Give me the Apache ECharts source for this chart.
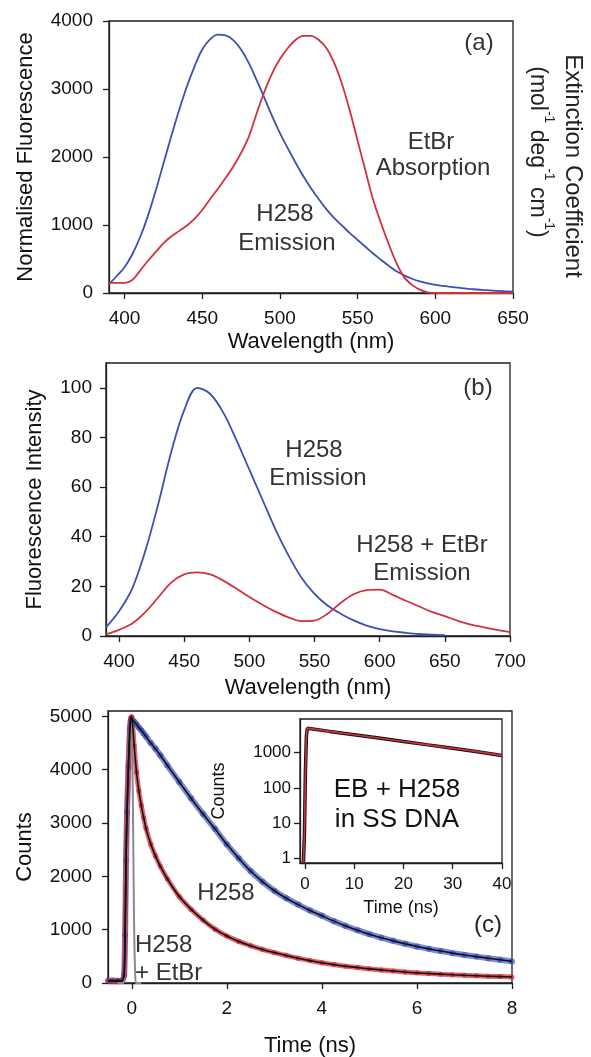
<!DOCTYPE html>
<html>
<head>
<meta charset="utf-8">
<title>H258 / EtBr spectra and decays</title>
<script src="https://cdn.jsdelivr.net/npm/echarts@6.0.0/dist/echarts.min.js"></script>
<style>
  html, body { margin: 0; padding: 0; background: #fff; }
  #chart { width: 591px; height: 1057px; }
</style>
</head>
<body>
<div id="chart"></div>
<script>
// ---- panel (a): normalised fluorescence / absorption, 390-650 nm ----
var wlA = [390,395,400,405,410,415,420,425,430,435,440,445,450,455,460,465,470,475,480,485,
           490,495,500,505,510,515,520,525,530,535,540,545,550,555,560,565,570,575,580,585,
           590,595,600,605,610,615,620,625,630,635,640,645,650];
var h258EmA = [130,250,380,570,820,1130,1500,1900,2300,2680,3030,3330,3580,3730,3800,3790,3720,3580,3380,3130,
               2870,2600,2350,2130,1920,1720,1540,1380,1230,1100,990,880,780,680,580,490,400,320,260,210,
               170,140,120,105,90,78,65,55,45,38,30,25,20];
var etbrAbsA = [150,150,150,190,330,470,600,730,830,910,990,1090,1220,1380,1530,1690,1860,2060,2300,2640,
                2960,3230,3440,3600,3720,3780,3780,3720,3600,3380,3070,2680,2240,1800,1370,1030,720,440,230,120,
                50,10,0,0,0,0,0,0,0,0,0,0,0];

// ---- panel (b): fluorescence intensity, 390-700 nm ----
var wlB = [390,400,410,420,430,440,450,460,470,480,490,500,510,520,530,540,550,560,570,580,
           590,600,610,620,630,640,650,660,670,680,690,700];
var h258EmB = [3.5,10,19,34,53,74,91,100,97.5,90,79,67,55,43,32.5,23.5,17,12.3,9,6.3,
               4.2,2.8,1.9,1.3,0.8,0.5,0.3,null,null,null,null,null];
var mixEmB = [0.7,2.5,5,9.5,15.5,21.5,24.8,25.6,24.8,22.3,19.1,15.7,12.6,9.8,7.5,6,6.2,9,13.3,16.8,
              18.5,18.7,16.6,14.2,12,9.7,8,6.1,4.6,3.5,2.5,1.6];

// ---- panel (c): time-resolved decays, -0.5-8 ns ----
var tC = [-0.5,-0.4,-0.3,-0.2,-0.16,-0.14,-0.12,-0.1,-0.07,-0.04,-0.02,0,
          0.05,0.1,0.15,0.2,0.25,0.3,0.4,0.5,0.6,0.75,
          1,1.25,1.5,1.75,2,2.25,2.5,2.75,3,3.25,3.5,3.75,4,4.25,4.5,4.75,
          5,5.25,5.5,5.75,6,6.25,6.5,6.75,7,7.25,7.5,7.75,8];
var h258C = [40,45,35,50,150,900,2300,3200,4050,4750,4920,4950,
             4900,4850,4790,4740,4680,4620,4500,4390,4270,4080,
             3770,3460,3170,2890,2600,2340,2100,1900,1730,1590,1470,1360,1260,1160,1070,990,
             915,850,790,735,685,640,600,560,525,495,465,435,405];
var mixC = [45,35,50,40,150,900,2300,3200,4100,4800,4980,4990,
            4450,3950,3600,3330,3100,2900,2600,2380,2190,1950,
            1620,1380,1180,1010,880,780,700,630,570,515,465,420,380,345,315,290,
            265,245,225,205,190,178,166,155,145,136,127,120,112];
var irfT = [-0.3,-0.17,-0.15,-0.12,-0.09,-0.06,-0.03,-0.01,0.01,0.03,0.05,0.07,0.09,0.2];
var irfC = [0,0,300,1800,3300,4400,4800,4850,4400,2800,1000,200,0,0];

// inset: log counts, -1-40 ns
var tIn = [-0.3,-0.1,0.1,0.3,0.5,5,10,15,20,25,30,35,40];
var mixIn = [0.8,5,300,3000,4900,3970,3200,2580,2050,1650,1330,1060,830];

var BLUE = '#3d4fb3';
var RED = '#d3303b';
var INK = '#1e1e1e';
var FONT = 'Liberation Sans, Arial, sans-serif';

function pairs(xs, ys) {
    return xs.map(function (x, i) { return [x, ys[i]]; });
}
function plain(v) { return String(v); }

function xAx(grid, min, max, ticks, name, labelMargin, nameGap, fs) {
    return {
        gridIndex: grid, type: 'value', min: min, max: max,
        axisLine: { show: true, onZero: false, lineStyle: { color: INK, width: 1.3 } },
        axisTick: { show: true, inside: false, length: 6, customValues: ticks, lineStyle: { color: INK, width: 1.3 } },
        axisLabel: { customValues: ticks, formatter: plain, fontSize: fs || 19, margin: labelMargin, color: '#111', fontFamily: FONT },
        splitLine: { show: false },
        name: name, nameLocation: 'middle', nameGap: nameGap,
        nameTextStyle: { fontSize: fs ? 18 : 22, color: '#111', fontFamily: FONT }
    };
}

function yAx(grid, min, max, ticks, name, labelMargin, nameGap, extra) {
    var ax = {
        gridIndex: grid, type: 'value', min: min, max: max,
        axisLine: { show: true, onZero: false, lineStyle: { color: INK, width: 1.3 } },
        axisTick: { show: true, inside: false, length: 6, customValues: ticks, lineStyle: { color: INK, width: 1.3 } },
        axisLabel: { customValues: ticks, formatter: plain, fontSize: 19, margin: labelMargin, color: '#111', fontFamily: FONT },
        splitLine: { show: false },
        name: name, nameLocation: 'middle', nameGap: nameGap, nameRotate: 90,
        nameTextStyle: { fontSize: 22, color: '#111', fontFamily: FONT }
    };
    if (extra) { for (var k in extra) ax[k] = extra[k]; }
    return ax;
}

function curve(x, y, data, color, width) {
    return {
        type: 'line', xAxisIndex: x, yAxisIndex: y, data: data,
        showSymbol: false, smooth: 0.35, connectNulls: false,
        lineStyle: { color: color, width: width || 1.8 }, z: 3
    };
}

var chart = echarts.init(document.getElementById('chart'), null, { renderer: 'canvas' });

var gridBase = { show: true, borderColor: INK, borderWidth: 1.3, outerBoundsMode: 'none', containLabel: false };
function g(l, t, w, h, bg) {
    var o = { left: l, top: t, width: w, height: h, backgroundColor: bg || 'transparent' };
    for (var k in gridBase) o[k] = gridBase[k];
    return o;
}

var option = {
    animation: false,
    backgroundColor: '#fff',
    grid: [
        g(109, 21, 404, 272),
        g(106, 363, 404, 273),
        g(108, 711, 404, 272),
        g(300, 719, 202, 144, '#fff')
    ],
    xAxis: [
        xAx(0, 390, 650, [400,450,500,550,600,650], 'Wavelength (nm)', 16, 38),
        xAx(1, 390, 700, [400,450,500,550,600,650,700], 'Wavelength (nm)', 16, 41),
        xAx(2, -0.5, 8, [0,2,4,6,8], 'Time (ns)', 16, 52),
        xAx(3, -1, 40, [0,10,20,30,40], 'Time (ns)', 13, 36, 17)
    ],
    yAxis: [
        yAx(0, 0, 4000, [0,1000,2000,3000,4000], 'Normalised Fluorescence', 16, 72),
        yAx(1, 0, 110, [0,20,40,60,80,100], 'Fluorescence Intensity', 14, 60),
        yAx(2, 0, 5100, [0,1000,2000,3000,4000,5000], 'Counts', 16, 72),
        yAx(3, 0.75, 8900, [1,10,100,1000], 'Counts', 9, 72, {
            type: 'log', logBase: 10,
            axisLabel: { customValues: [1,10,100,1000], formatter: plain, fontSize: 17, margin: 9, color: '#111', fontFamily: FONT },
            nameTextStyle: { fontSize: 18, color: '#111', fontFamily: FONT }
        })
    ],
    series: [
        curve(0, 0, pairs(wlA, h258EmA), BLUE),
        curve(0, 0, pairs(wlA, etbrAbsA), RED),
        curve(1, 1, pairs(wlB, h258EmB), BLUE),
        curve(1, 1, pairs(wlB, mixEmB), RED),
        // measured points, drawn as a dense translucent band
        {
            type: 'line', xAxisIndex: 2, yAxisIndex: 2, data: pairs(tC, h258C),
            symbol: 'circle', symbolSize: 6, showSymbol: true, smooth: 0.2,
            itemStyle: { color: 'rgba(60,80,190,0.7)' },
            lineStyle: { color: 'rgba(70,90,200,0.7)', width: 6 }, z: 2
        },
        {
            type: 'line', xAxisIndex: 2, yAxisIndex: 2, data: pairs(tC, mixC),
            symbol: 'circle', symbolSize: 5, showSymbol: true, smooth: 0.2,
            itemStyle: { color: 'rgba(215,40,50,0.75)' },
            lineStyle: { color: 'rgba(215,40,50,0.7)', width: 5 }, z: 2
        },
        {
            type: 'line', xAxisIndex: 2, yAxisIndex: 2, data: pairs(irfT, irfC),
            showSymbol: false, smooth: 0.2,
            lineStyle: { color: '#8a8a8a', width: 2 }, z: 3
        },
        // fits
        {
            type: 'line', xAxisIndex: 2, yAxisIndex: 2, data: pairs(tC, h258C),
            showSymbol: false, smooth: 0.2, lineStyle: { color: '#111', width: 1.6 }, z: 4
        },
        {
            type: 'line', xAxisIndex: 2, yAxisIndex: 2, data: pairs(tC, mixC),
            showSymbol: false, smooth: 0.2, lineStyle: { color: '#111', width: 1.6 }, z: 4
        },
        // inset
        {
            type: 'line', xAxisIndex: 3, yAxisIndex: 3, data: pairs(tIn, mixIn),
            showSymbol: false, lineStyle: { color: '#111', width: 3.5 }, z: 6
        },
        {
            type: 'line', xAxisIndex: 3, yAxisIndex: 3, data: pairs(tIn, mixIn),
            showSymbol: false, lineStyle: { color: RED, width: 1.6 }, z: 7
        }
    ],
    graphic: [
        // panel (a)
        { type: 'text', x: 479, y: 43, style: { text: '(a)', font: '24px ' + FONT, fill: '#333', align: 'center', verticalAlign: 'middle' } },
        { type: 'text', x: 431, y: 142, style: { text: 'EtBr', font: '24px ' + FONT, fill: '#333', align: 'center', verticalAlign: 'middle' } },
        { type: 'text', x: 433, y: 168, style: { text: 'Absorption', font: '24px ' + FONT, fill: '#333', align: 'center', verticalAlign: 'middle' } },
        { type: 'text', x: 285, y: 214, style: { text: 'H258', font: '24px ' + FONT, fill: '#333', align: 'center', verticalAlign: 'middle' } },
        { type: 'text', x: 287, y: 243, style: { text: 'Emission', font: '24px ' + FONT, fill: '#333', align: 'center', verticalAlign: 'middle' } },
        { type: 'text', x: 573, y: 166, rotation: -Math.PI / 2,
          style: { text: 'Extinction Coefficient', font: '24px ' + FONT, fill: '#222', align: 'center', verticalAlign: 'middle' } },
        { type: 'text', x: 541, y: 152, rotation: -Math.PI / 2,
          style: {
              text: '{n|(mol}{s|-1}{n| deg}{s|-1}{n| cm}{s|-1}{n|)}',
              align: 'center', verticalAlign: 'middle', fill: '#222',
              rich: {
                  n: { fontSize: 23, fontFamily: FONT, lineHeight: 30, verticalAlign: 'bottom', fill: '#222' },
                  s: { fontSize: 14, fontFamily: FONT, lineHeight: 30, verticalAlign: 'top', fill: '#222' }
              }
          } },
        // panel (b)
        { type: 'text', x: 478, y: 388, style: { text: '(b)', font: '24px ' + FONT, fill: '#333', align: 'center', verticalAlign: 'middle' } },
        { type: 'text', x: 314, y: 450, style: { text: 'H258', font: '24px ' + FONT, fill: '#333', align: 'center', verticalAlign: 'middle' } },
        { type: 'text', x: 318, y: 478, style: { text: 'Emission', font: '24px ' + FONT, fill: '#333', align: 'center', verticalAlign: 'middle' } },
        { type: 'text', x: 422, y: 545, style: { text: 'H258 + EtBr', font: '24px ' + FONT, fill: '#333', align: 'center', verticalAlign: 'middle' } },
        { type: 'text', x: 422, y: 573, style: { text: 'Emission', font: '24px ' + FONT, fill: '#333', align: 'center', verticalAlign: 'middle' } },
        // panel (c)
        { type: 'text', x: 488, y: 925, style: { text: '(c)', font: '24px ' + FONT, fill: '#222', align: 'center', verticalAlign: 'middle' } },
        { type: 'text', x: 226, y: 893, style: { text: 'H258', font: '24px ' + FONT, fill: '#333', align: 'center', verticalAlign: 'middle' } },
        { type: 'text', x: 135, y: 945, style: { text: 'H258', font: '24px ' + FONT, fill: '#333', align: 'left', verticalAlign: 'middle' } },
        { type: 'text', x: 135, y: 973, style: { text: '+ EtBr', font: '24px ' + FONT, fill: '#333', align: 'left', verticalAlign: 'middle' } },
        { type: 'text', x: 397, y: 790, z: 10, style: { text: 'EB + H258', font: '26px ' + FONT, fill: '#111', align: 'center', verticalAlign: 'middle' } },
        { type: 'text', x: 397, y: 820, z: 10, style: { text: 'in SS DNA', font: '26px ' + FONT, fill: '#111', align: 'center', verticalAlign: 'middle' } }
    ]
};

chart.setOption(option);
</script>
</body>
</html>
